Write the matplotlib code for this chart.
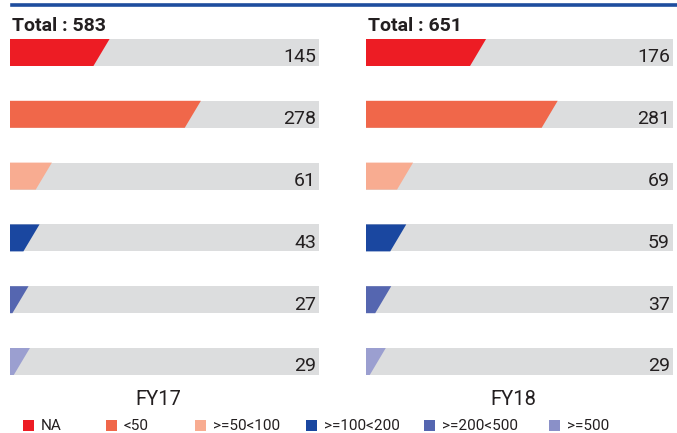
import matplotlib
matplotlib.use("Agg")
import matplotlib.pyplot as plt
from matplotlib.patches import Polygon, Rectangle
from matplotlib.lines import Line2D

plt.rcParams['font.family'] = ['Roboto', 'DejaVu Sans']

categories = ["NA", "<50", ">=50<100", ">=100<200", ">=200<500", ">=500"]
colors = ["#ED1C24", "#F0674A", "#F8AC91", "#1A47A0", "#5566B0", "#9B9FD0"]
legend_colors = ["#ED1C24", "#F0674A", "#F8AC91", "#1A47A0", "#5566B0", "#8A90C8"]
years = ["FY17", "FY18"]
fy17 = [145, 278, 61, 43, 27, 29]
fy18 = [176, 281, 69, 59, 37, 29]
totals = [583, 651]
series = [fy17, fy18]

W, H = 677, 433
fig = plt.figure(figsize=(W / 100, H / 100), dpi=100)

def fx(px):
    return px / W

def fy(py):
    return 1 - py / H

# top rule
fig.add_artist(Line2D([fx(12), fx(677)], [fy(4.5), fy(4.5)], color="#1E4D9E", lw=2.6,
                      transform=fig.transFigure))

XMAX = 450
SLANT = 23.5
bar_h = 27 / 61.8
panels = [(10, 319), (366, 673)]
top_px, bot_px = 39, 375

for k, (x0, x1) in enumerate(panels):
    ax = fig.add_axes([fx(x0), fy(bot_px), (x1 - x0) / W, (bot_px - top_px) / H])
    ax.set_xlim(0, XMAX)
    n = len(categories)
    ax.set_ylim(n - 1 + bar_h / 2, -bar_h / 2)
    ax.axis("off")
    vals = series[k]
    for i, v in enumerate(vals):
        yt, yb = i - bar_h / 2, i + bar_h / 2
        ax.add_patch(Rectangle((0, yt), XMAX, bar_h, facecolor="#DCDDDE", edgecolor="none"))
        ax.add_patch(Polygon([(0, yt), (v, yt), (max(v - SLANT, 0), yb), (0, yb)],
                             closed=True, facecolor=colors[i], edgecolor="none"))
        ax.text(XMAX - 4.5, i + 0.16, str(v), ha="right", va="baseline",
                fontsize=14, color="#231F20")
    fig.text(fx(x0 + 2), fy(31), f"Total : {totals[k]}", ha="left", va="baseline",
             fontsize=14, fontweight="bold", color="#231F20")
    fig.text(fx((x0 + x1) / 2 - 6), fy(405), years[k], ha="center", va="baseline",
             fontsize=14.5, color="#231F20")

# legend
sq_x = [23, 106, 195, 306, 424, 549]
for i, c in enumerate(categories):
    fig.add_artist(Rectangle((fx(sq_x[i]), fy(431)), 11 / W, 11 / H, facecolor=legend_colors[i],
                             edgecolor="none", transform=fig.transFigure))
    fig.text(fx(sq_x[i] + 18), fy(430.5), c, ha="left", va="baseline", fontsize=11,
             color="#231F20")

fig.savefig("out.png", dpi=100)
